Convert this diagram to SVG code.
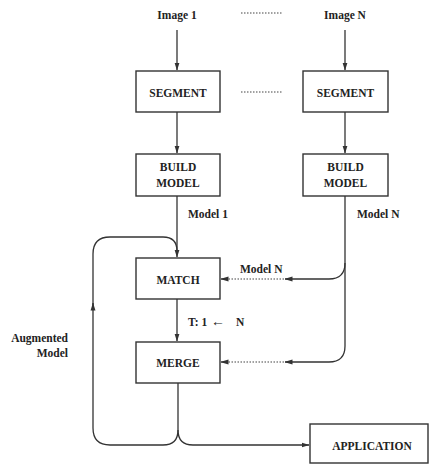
<svg xmlns="http://www.w3.org/2000/svg" width="430" height="466" viewBox="0 0 430 466">
<style>
.box{fill:#fff;stroke:#333;stroke-width:1.4}
.t{font-family:"Liberation Serif","Times New Roman",serif;font-weight:bold;font-size:11.5px;fill:#222;text-anchor:middle}
.l{font-family:"Liberation Serif","Times New Roman",serif;font-weight:bold;font-size:11.5px;fill:#222}
.c{fill:none;stroke:#333;stroke-width:1.3}
.d{fill:none;stroke:#444;stroke-width:1.1;stroke-dasharray:1.5 1.5}
</style>
<defs>
<marker id="ah" markerWidth="8" markerHeight="6" refX="7.5" refY="3" orient="auto" markerUnits="userSpaceOnUse">
<path d="M0,0.5 L8,3 L0,5.5 Z" fill="#333"/>
</marker>
</defs>
<rect width="430" height="466" fill="#fff"/>
<g id="labels">
<text class="t" x="177" y="19">Image 1</text>
<text class="t" x="345" y="19">Image N</text>
<text class="l" x="188" y="218">Model 1</text>
<text class="l" x="357" y="218">Model N</text>
<text class="l" x="240" y="273">Model N</text>
<text class="l" y="326"><tspan x="188">T: 1</tspan><tspan x="211" font-size="14px">←</tspan><tspan x="236">N</tspan></text>
<text class="l" x="68" y="342" text-anchor="end">Augmented</text>
<text class="l" x="68" y="357" text-anchor="end">Model</text>
</g>
<g id="segment1"><rect class="box" x="136" y="71" width="84" height="41"/><text class="t" x="178" y="97">SEGMENT</text></g>
<g id="segmentN"><rect class="box" x="303" y="71" width="85" height="41"/><text class="t" x="345.5" y="97">SEGMENT</text></g>
<g id="build1"><rect class="box" x="136" y="154" width="84" height="42"/><text class="t" x="178" y="171">BUILD</text><text class="t" x="178" y="187">MODEL</text></g>
<g id="buildN"><rect class="box" x="303" y="154" width="85" height="42"/><text class="t" x="345.5" y="171">BUILD</text><text class="t" x="345.5" y="187">MODEL</text></g>
<g id="match"><rect class="box" x="136" y="258" width="84" height="41"/><text class="t" x="178" y="284">MATCH</text></g>
<g id="merge"><rect class="box" x="136" y="342" width="84" height="41"/><text class="t" x="178" y="367">MERGE</text></g>
<g id="application"><rect class="box" x="310" y="424" width="118" height="39"/><text class="t" x="372" y="450">APPLICATION</text></g>
<g id="connectors">
<path class="d" d="M241,13 H282"/>
<path class="d" d="M241,92 H282"/>
<path class="c" d="M177,30 V70" marker-end="url(#ah)"/>
<path class="c" d="M345,30 V70" marker-end="url(#ah)"/>
<path class="c" d="M177,112 V153" marker-end="url(#ah)"/>
<path class="c" d="M345,112 V153" marker-end="url(#ah)"/>
<path class="c" d="M177,196 V257" marker-end="url(#ah)"/>
<path class="c" d="M177,299 V341" marker-end="url(#ah)"/>
<path class="c" d="M345,196 V263 Q345,279 329,279 H285" marker-end="url(#ah)"/>
<path class="d" d="M284,279 H226"/>
<path class="c" d="M228,279 H221" marker-end="url(#ah)"/>
<path class="c" d="M345,263 V346 Q345,362 329,362 H285" marker-end="url(#ah)"/>
<path class="d" d="M284,362 H226"/>
<path class="c" d="M228,362 H221" marker-end="url(#ah)"/>
<path class="c" d="M178,383 V430"/>
<path class="c" d="M178,430 Q178,445 193,445 H309" marker-end="url(#ah)"/>
<path class="c" d="M178,430 Q178,445 163,445 H110 Q93,445 93,428 V303" marker-end="url(#ah)"/>
<path class="c" d="M93,306 V254 Q93,237 110,237 H163 Q177,237 177,251"/>
</g>
</svg>
